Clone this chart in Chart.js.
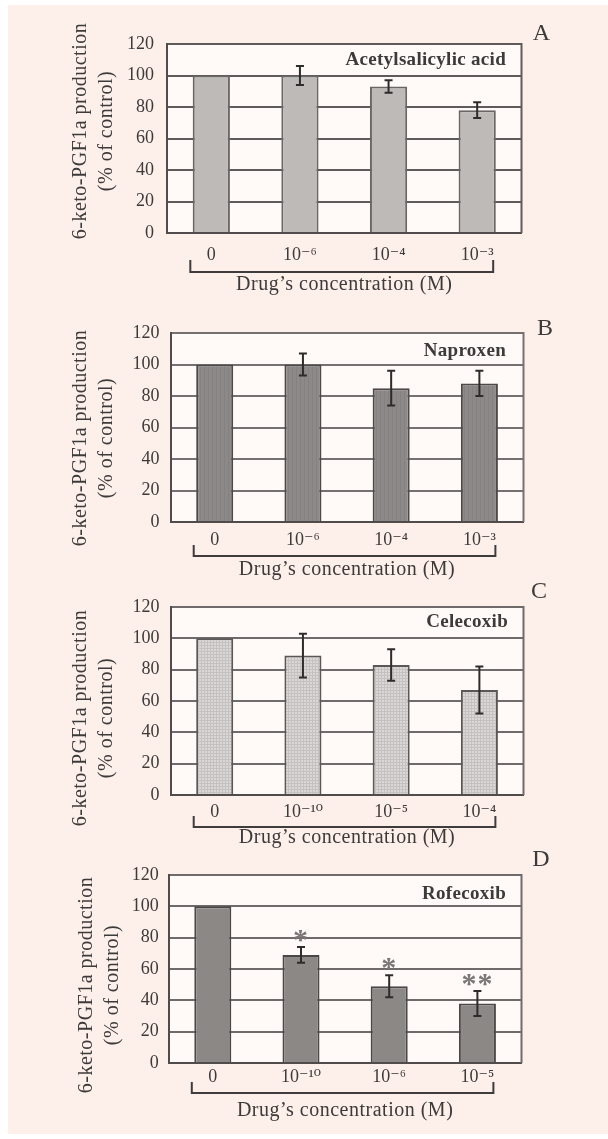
<!DOCTYPE html>
<html>
<head>
<meta charset="utf-8">
<script src="https://cdn.jsdelivr.net/npm/chart.js@4/dist/chart.umd.min.js"></script>
<style>
  html, body { margin: 0; padding: 0; background: #ffffff; }
  #page { position: relative; width: 608px; height: 1139px; overflow: hidden; background: #ffffff; }
  #sheet { position: absolute; left: 8px; top: 5px; width: 600px; height: 1129px; background: #fdefea; }
  canvas { position: absolute; left: 0; top: 0; }
</style>
</head>
<body>
<div id="page">
  <div id="sheet"></div>
  <canvas id="chartA" width="608" height="1139"></canvas>
  <canvas id="chartB" width="608" height="1139"></canvas>
  <canvas id="chartC" width="608" height="1139"></canvas>
  <canvas id="chartD" width="608" height="1139"></canvas>
</div>
<script>
// ---- data ----
const panelLetters = ['A', 'B', 'C', 'D'];
const drugNames = ['Acetylsalicylic acid', 'Naproxen', 'Celecoxib', 'Rofecoxib'];

const concLabelsA = ['0', '10⁻⁶', '10⁻⁴', '10⁻³'];
const concLabelsB = ['0', '10⁻⁶', '10⁻⁴', '10⁻³'];
const concLabelsC = ['0', '10⁻¹⁰', '10⁻⁵', '10⁻⁴'];
const concLabelsD = ['0', '10⁻¹⁰', '10⁻⁶', '10⁻⁵'];

const productionA = [100, 100, 93, 78];
const errorA      = [0, 6, 4, 5];
const productionB = [100, 100, 85, 88];
const errorB      = [0, 7, 11, 8];
const productionC = [100, 89, 83, 67];
const errorC      = [0, 14, 10, 15];
const productionD = [100, 69, 49, 38];
const errorD      = [0, 5, 7, 8];
const significanceD = ['', '*', '*', '**'];

const yTickValues = [0, 20, 40, 60, 80, 100, 120];
const yAxisTitle = ['6-keto-PGF1a production', '(% of control)'];
const xAxisTitle = 'Drug\u2019s concentration (M)';

// ---- styling helpers ----
const SERIF = '"Liberation Serif", "DejaVu Serif", "Times New Roman", serif';
const TEXT = '#3d3a3a';
const PAGE_W = 608, PAGE_H = 1139, X_AXIS_H = 30;

// small repeating textures for the hatched bar fills
const ctx0 = document.createElement('canvas').getContext('2d');
function patternFill(base, ink, kind) {
  const c = document.createElement('canvas');
  c.width = kind === 'grid' ? 3 : 4; c.height = 3;
  const g = c.getContext('2d');
  g.fillStyle = base; g.fillRect(0, 0, c.width, c.height);
  g.fillStyle = ink;
  if (kind === 'grid') { g.fillRect(0, 0, 3, 1); g.fillRect(0, 0, 1, 3); }
  else { g.fillRect(0, 0, 1, 3); }
  return ctx0.createPattern(c, 'repeat');
}

// ---- per-panel layout ----
const panels = [
  { canvas: 'chartA', letter: panelLetters[0], name: drugNames[0], labels: concLabelsA,
    values: productionA, errors: errorA, marks: null,
    area: { left: 167, right: 521.5, top: 44, bottom: 233 },
    fill: '#bebab8', border: '#6a6664', grid: '#5f5b5a',
    yTickPad: 13, xTickPad: 11, yTitleX: [81, 107], yTitleDy: -7.5,
    letterPos: [20, -12], namePos: [-15.5, 16], bracket: [39, 27], xTitleDy: 57 },
  { canvas: 'chartB', letter: panelLetters[1], name: drugNames[1], labels: concLabelsB,
    values: productionB, errors: errorB, marks: null,
    area: { left: 170.6, right: 523.5, top: 333, bottom: 522 },
    fill: patternFill('#8d8989', '#858181', 'stripe'), border: '#4d4949', grid: '#757170',
    yTickPad: 11, xTickPad: 7, yTitleX: [81, 107], yTitleDy: 10.5,
    letterPos: [21.5, -6], namePos: [-17.5, 18], bracket: [34, 23], xTitleDy: 53 },
  { canvas: 'chartC', letter: panelLetters[2], name: drugNames[2], labels: concLabelsC,
    values: productionC, errors: errorC, marks: null,
    area: { left: 170.6, right: 523.5, top: 607, bottom: 795 },
    fill: patternFill('#dcd7d7', '#c6c1c1', 'grid'), border: '#5b5757', grid: '#6f6b6a',
    yTickPad: 11, xTickPad: 6, yTitleX: [81, 107], yTitleDy: 17,
    letterPos: [15.5, -17], namePos: [-15.5, 13], bracket: [32, 21], xTitleDy: 48 },
  { canvas: 'chartD', letter: panelLetters[3], name: drugNames[3], labels: concLabelsD,
    values: productionD, errors: errorD, marks: significanceD,
    area: { left: 168.7, right: 521.5, top: 875, bottom: 1063 },
    fill: '#8c8886', border: '#4b4747', grid: '#6f6b6a',
    yTickPad: 10, xTickPad: 3, yTitleX: [87, 112.5], yTitleDy: 16,
    letterPos: [19.5, -17], namePos: [-15.5, 17], bracket: [30, 19], xTitleDy: 53 }
];

function centeredText(ctx, text, x, y) {
  const m = ctx.measureText(text);
  ctx.textBaseline = 'alphabetic';
  ctx.fillText(text, x, y + (m.actualBoundingBoxAscent - m.actualBoundingBoxDescent) / 2);
}

function panelDecor(p) {
  return {
    id: 'panelDecor',
    beforeDraw(chart) {
      const { ctx, chartArea: a } = chart;
      ctx.save();
      ctx.fillStyle = '#fffaf7';
      ctx.fillRect(a.left, a.top, a.right - a.left, a.bottom - a.top);
      ctx.restore();
    },
    afterDatasetsDraw(chart) {
      const { ctx, chartArea: a } = chart;
      const ds = chart.data.datasets[0];
      const y = chart.scales.y;
      const meta = chart.getDatasetMeta(0);
      ctx.save();
      // right edge of the frame
      ctx.strokeStyle = p.grid; ctx.lineWidth = 2;
      ctx.beginPath(); ctx.moveTo(a.right, a.top - 1); ctx.lineTo(a.right, a.bottom); ctx.stroke();
      // error bars (mean ± SD)
      ctx.strokeStyle = '#2e2b2b'; ctx.lineWidth = 2;
      meta.data.forEach((bar, i) => {
        const e = ds.errors[i];
        if (!e) return;
        const v = ds.data[i];
        const yTop = y.getPixelForValue(v + e), yBot = y.getPixelForValue(v - e);
        ctx.beginPath();
        ctx.moveTo(bar.x, yTop); ctx.lineTo(bar.x, yBot);
        ctx.moveTo(bar.x - 4, yTop); ctx.lineTo(bar.x + 4, yTop);
        ctx.moveTo(bar.x - 4, yBot); ctx.lineTo(bar.x + 4, yBot);
        ctx.stroke();
        if (ds.marks && ds.marks[i]) {
          ctx.fillStyle = '#7a7676';
          ctx.font = 'bold 30px ' + SERIF;
          ctx.textAlign = 'center';
          ctx.letterSpacing = '1px';
          centeredText(ctx, ds.marks[i], bar.x, yTop - 11);
        }
      });
      ctx.restore();
    },
    afterDraw(chart) {
      const { ctx, chartArea: a } = chart;
      const x = chart.scales.x;
      const midY = (a.top + a.bottom) / 2;
      ctx.save();
      ctx.fillStyle = TEXT;
      ctx.letterSpacing = '0.5px';
      // y axis title (two rotated lines)
      ctx.font = '20px ' + SERIF;
      ctx.textAlign = 'center';
      ctx.textBaseline = 'middle';
      yAxisTitle.forEach((line, i) => {
        ctx.save();
        ctx.translate(p.yTitleX[i], midY + p.yTitleDy);
        ctx.rotate(-Math.PI / 2);
        ctx.fillText(line, 0, 0);
        ctx.restore();
      });
      // x axis title
      ctx.textAlign = 'center';
      centeredText(ctx, xAxisTitle, (a.left + a.right) / 2, a.bottom + p.xTitleDy);
      // bracket grouping the concentrations
      const n = chart.data.labels.length;
      const x0 = x.getPixelForValue(0) - 21, x1 = x.getPixelForValue(n - 1) + 16;
      const by = a.bottom + p.bracket[0], bt = a.bottom + p.bracket[1];
      ctx.strokeStyle = '#403c3c'; ctx.lineWidth = 2;
      ctx.beginPath();
      ctx.moveTo(x0, bt); ctx.lineTo(x0, by); ctx.lineTo(x1, by); ctx.lineTo(x1, bt);
      ctx.stroke();
      // drug name inside the plot
      ctx.letterSpacing = '0.3px';
      ctx.font = 'bold 19px ' + SERIF;
      ctx.textAlign = 'right';
      centeredText(ctx, p.name, a.right + p.namePos[0], a.top + p.namePos[1]);
      // panel letter
      ctx.letterSpacing = '0px';
      ctx.font = '24px ' + SERIF;
      ctx.textAlign = 'center';
      centeredText(ctx, p.letter, a.right + p.letterPos[0], a.top + p.letterPos[1]);
      ctx.restore();
    }
  };
}

panels.forEach(p => {
  const tickFont = { family: SERIF, size: 18 };
  new Chart(document.getElementById(p.canvas), {
    type: 'bar',
    data: {
      labels: p.labels,
      datasets: [{
        data: p.values,
        errors: p.errors,
        marks: p.marks,
        backgroundColor: p.fill,
        borderColor: p.border,
        borderWidth: 2,
        barPercentage: 0.42,
        categoryPercentage: 1.0
      }]
    },
    options: {
      responsive: false,
      animation: false,
      devicePixelRatio: 1,
      events: [],
      layout: {
        padding: {
          left: 0,
          top: p.area.top,
          right: PAGE_W - p.area.right,
          bottom: PAGE_H - p.area.bottom - X_AXIS_H
        }
      },
      plugins: { legend: { display: false }, tooltip: { enabled: false } },
      scales: {
        x: {
          type: 'category',
          offset: true,
          grid: { display: false, drawTicks: false },
          border: { display: true, color: '#504c4c', width: 2 },
          ticks: { padding: p.xTickPad, font: tickFont, color: TEXT, maxRotation: 0, autoSkip: false },
          afterFit(s) { s.height = X_AXIS_H; }
        },
        y: {
          min: 0, max: 120,
          grid: { color: p.grid, lineWidth: 2, drawTicks: false },
          border: { display: true, color: '#504c4c', width: 2 },
          ticks: { padding: p.yTickPad, font: tickFont, color: TEXT },
          afterBuildTicks(s) { s.ticks = yTickValues.map(v => ({ value: v })); },
          afterFit(s) { s.width = p.area.left; }
        }
      }
    },
    plugins: [panelDecor(p)]
  });
});
</script>
</body>
</html>
